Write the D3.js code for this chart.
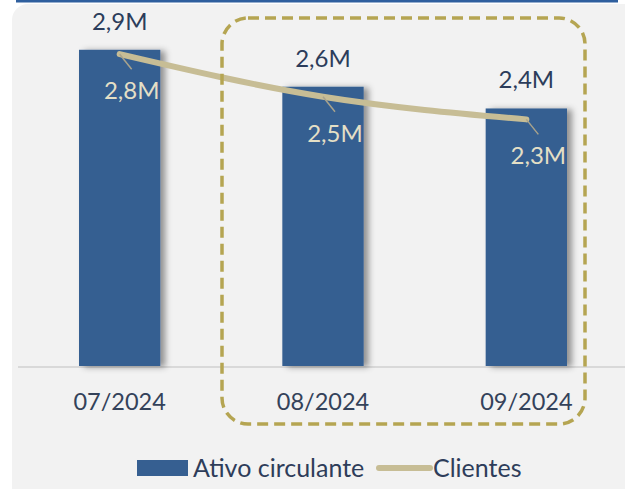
<!DOCTYPE html>
<html><head><meta charset="utf-8">
<script src="https://cdn.jsdelivr.net/npm/d3@7"></script>
<style>html,body{margin:0;padding:0;background:#fff;overflow:hidden}svg{display:block}</style>
</head><body>
<script>
const categories = ["07/2024", "08/2024", "09/2024"];
const ativoCirculante = [2.91, 2.57, 2.37];
const clientes = [2.80, 2.50, 2.34];
const seriesNames = ["Ativo circulante", "Clientes"];

const W = 625, H = 489;
const FONT = "Lato, 'Open Sans', sans-serif";
const fmt = v => d3.format(".1f")(v).replace(".", ",") + "M";

const svg = d3.select("body").append("svg").attr("width", W).attr("height", H);
const defs = svg.append("defs");
const f = defs.append("filter").attr("id", "sh").attr("x", "-20%").attr("y", "-5%").attr("width", "150%").attr("height", "110%");
f.append("feDropShadow").attr("dx", 5).attr("dy", 1).attr("stdDeviation", 3).attr("flood-color", "#000").attr("flood-opacity", 0.4);

// panel
svg.append("rect").attr("x", 12).attr("y", 4).attr("width", 640).attr("height", 500).attr("rx", 16).attr("fill", "#f2f2f2");
svg.append("rect").attr("x", 16).attr("y", 0).attr("width", 602).attr("height", 2.5).attr("fill", "#2f5f9e");

const x = d3.scaleBand().domain(categories).range([18, 628]).paddingInner(0.6).paddingOuter(0.3);
const y = d3.scaleLinear().domain([0, 3.0]).range([366, 40]);
const y2 = d3.scaleLinear().domain([0.6, 2.9]).range([366, 40]);

// baseline
svg.append("line").attr("x1", 18).attr("x2", 625).attr("y1", 367).attr("y2", 367).attr("stroke", "#d9d9d9").attr("stroke-width", 2);

// bars
svg.append("g").selectAll("rect").data(ativoCirculante).join("rect")
  .attr("x", (d, i) => x(categories[i]))
  .attr("y", d => y(d))
  .attr("width", x.bandwidth())
  .attr("height", d => y(0) - y(d))
  .attr("fill", "#365f91")
  .attr("filter", "url(#sh)");

// bar labels
svg.append("g").selectAll("text").data(ativoCirculante).join("text")
  .attr("x", (d, i) => x(categories[i]) + x.bandwidth() / 2)
  .attr("y", d => y(d) - 20)
  .attr("text-anchor", "middle")
  .attr("font-family", FONT).attr("font-size", 24)
  .attr("fill", "#2c3d5b")
  .text(d => fmt(d));

// axis labels
const xAxis = d3.axisBottom(x).tickSize(0).tickPadding(0);
const ax = svg.append("g").attr("transform", "translate(0,367)").call(xAxis);
ax.select(".domain").remove();
ax.selectAll("text").attr("dy", 0).attr("y", 43)
  .attr("font-family", FONT).attr("font-size", 23.5).attr("fill", "#34425a");

// line
const cx = i => x(categories[i]) + x.bandwidth() / 2;
const line = d3.line().x((d, i) => cx(i)).y(d => y2(d)).curve(d3.curveMonotoneX);
svg.append("path").datum(clientes).attr("d", line)
  .attr("fill", "none").attr("stroke", "#c7bd95").attr("stroke-width", 6).attr("stroke-linecap", "round");

// leader lines + line labels
const lg = svg.append("g");
clientes.forEach((d, i) => {
  const px = cx(i), py = y2(d);
  lg.append("line").attr("x1", px).attr("y1", py).attr("x2", px + 12).attr("y2", py + 15)
    .attr("stroke", "#a9a38c").attr("stroke-width", 1.5);
  lg.append("text").attr("x", px + 12).attr("y", py + 45)
    .attr("text-anchor", "middle")
    .attr("font-family", FONT).attr("font-size", 24)
    .attr("fill", "#e4dfc6")
    .text(fmt(d));
});

// dashed highlight box
svg.append("rect").attr("x", 222).attr("y", 18).attr("width", 363).attr("height", 406).attr("rx", 26)
  .attr("fill", "none").attr("stroke", "#b5a552").attr("stroke-width", 3.5).attr("stroke-dasharray", "11 6");

// legend
const leg = svg.append("g");
leg.append("rect").attr("x", 137).attr("y", 460).attr("width", 51).attr("height", 16).attr("fill", "#365f91");
leg.append("text").attr("x", 193).attr("y", 477).attr("font-family", FONT).attr("font-size", 25).attr("fill", "#2e3d5a").text(seriesNames[0]);
leg.append("line").attr("x1", 379).attr("x2", 430).attr("y1", 468).attr("y2", 468).attr("stroke", "#c7bd95").attr("stroke-width", 6).attr("stroke-linecap", "round");
leg.append("text").attr("x", 433).attr("y", 477).attr("font-family", FONT).attr("font-size", 25).attr("fill", "#2e3d5a").text(seriesNames[1]);
</script>
</body></html>
